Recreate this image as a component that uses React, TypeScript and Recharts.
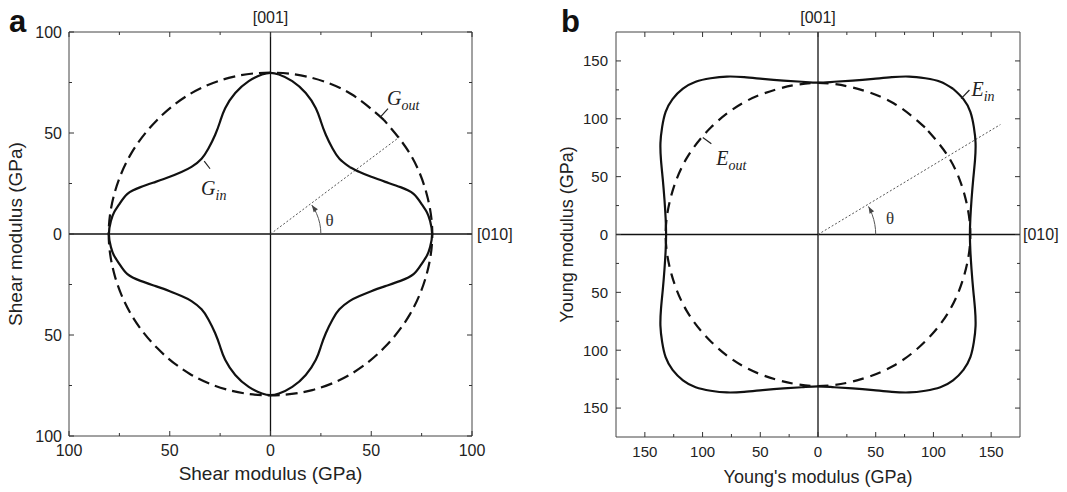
import React from 'react';
import { LineChart, Line, XAxis, YAxis, ReferenceLine, ReferenceDot } from 'recharts';

// (a) shear modulus, first quadrant (GPa), 0° -> 90°
const gInX = [80.2, 79.2, 77.6, 75.2, 71, 64.5, 57, 50, 44.2, 39.2, 34.2, 30.8, 27.5, 25, 22.5, 17.5, 10.8, 4.2, 0];
const gInY = [0, 6.5, 10.8, 14.5, 19.9, 23.2, 25.8, 28.3, 30.7, 33.2, 37.3, 42.3, 49, 55.7, 62.3, 69.8, 75.7, 79, 79.8];
const outAngles = [0, 15, 30, 45, 60, 75, 90];
const gOutR = [80.3, 80, 79.8, 79.7, 80, 80, 79.9];

// (b) Young's modulus, first quadrant (GPa)
const eInX = [131.6, 132, 133, 134.5, 136, 136.5, 135, 132, 126, 117, 106, 93, 79, 64, 48, 30, 14, 0];
const eInY = [0, 14, 30, 48, 64, 79, 93, 106, 117, 126, 132, 135, 136.5, 136, 134.5, 133, 132, 131.2];
const eOutR = [132, 131.5, 131.5, 131, 131, 130.5, 131];

const ticksA = [-100, -75, -50, -25, 0, 25, 50, 75, 100];
const ticksB = [-150, -125, -100, -75, -50, -25, 0, 25, 50, 75, 100, 125, 150];

// theta ray ends and arcs
const rayA = [{ x: 0, y: 0 }, { x: 64, y: 48 }];
const rayB = [{ x: 0, y: 0 }, { x: 158, y: 95 }];
const arcAngA = [0, 6, 12, 18, 24, 30, 35];
const arcAngB = [0, 5, 10, 15, 20, 25, 29];

// label pointers
const ptrGout = [{ x: 54.5, y: 57.9 }, { x: 58.3, y: 62.1 }];
const ptrGin = [{ x: -32.9, y: 36.1 }, { x: -30, y: 32.3 }];
const ptrEin = [{ x: 124, y: 117.4 }, { x: 131.2, y: 124.9 }];
const ptrEout = [{ x: -99.8, y: 83.9 }, { x: -92.4, y: 78.5 }];

type P = { x: number; y: number };

const SANS = '"Liberation Sans", Arial, sans-serif';
const SERIF = '"Liberation Serif", "Times New Roman", serif';

const zip = (xs: number[], ys: number[]): P[] => xs.map((x, i) => ({ x, y: ys[i] }));
const polar = (angles: number[], r: number[] | number): P[] =>
  angles.map((a, i) => {
    const rr = Array.isArray(r) ? r[i] : r;
    return { x: rr * Math.cos((a * Math.PI) / 180), y: rr * Math.sin((a * Math.PI) / 180) };
  });

// mirror a first-quadrant trace into a closed loop, start mid-quadrant
const closeLoop = (q1: P[]): P[] => {
  const q2 = q1.slice(0, -1).reverse().map((p) => ({ x: -p.x, y: p.y }));
  const q3 = q1.slice(1).map((p) => ({ x: -p.x, y: -p.y }));
  const q4 = q1.slice(0, -1).reverse().map((p) => ({ x: p.x, y: -p.y }));
  const all = [...q1, ...q2, ...q3, ...q4];
  const k = Math.floor(q1.length / 2);
  return [...all.slice(k, -1), ...all.slice(0, k + 1)];
};

const Tick = (props: any) => {
  const { x, y, payload, side, fs, gap } = props;
  const v = payload.value as number;
  const major = v % 50 === 0;
  const len = major ? 5 : 3;
  const c = '#333';
  let x2 = x;
  let y2 = y;
  if (side === 'bottom') y2 = y - len;
  if (side === 'top') y2 = y + len;
  if (side === 'left') x2 = x + len;
  if (side === 'right') x2 = x - len;
  return (
    <g>
      <line x1={x} y1={y} x2={x2} y2={y2} stroke={c} strokeWidth={1} />
      {major && side === 'bottom' && (
        <text x={x} y={y + 20} textAnchor="middle" fontSize={fs} fill="#222" fontFamily={SANS}>
          {Math.abs(v)}
        </text>
      )}
      {major && side === 'left' && (
        <text x={x - gap} y={y + fs * 0.36} textAnchor="end" fontSize={fs} fill="#222" fontFamily={SANS}>
          {Math.abs(v)}
        </text>
      )}
    </g>
  );
};

const noteLabel = (main: string, sub: string, dx: number, dy: number) => (p: any) => {
  const vb = p.viewBox || { x: 0, y: 0 };
  return (
    <text x={vb.x + dx} y={vb.y + dy} fontFamily={SERIF} fontStyle="italic" fontSize={20} fill="#222">
      {main}
      <tspan fontSize={14} dy={5}>{sub}</tspan>
    </text>
  );
};

const thetaLabel = (p: any) => {
  const vb = p.viewBox || { x: 0, y: 0 };
  return (
    <text x={vb.x} y={vb.y} textAnchor="middle" dominantBaseline="central" fontFamily={SERIF} fontSize={17} fill="#333">
      θ
    </text>
  );
};

const arrowDot = (last: number, endDeg: number) => (p: any) => {
  const { cx, cy, index } = p;
  if (index !== last) return <g key={`d${index}`} />;
  const a = (endDeg * Math.PI) / 180;
  const dx = -Math.sin(a);
  const dy = -Math.cos(a);
  const bx = cx - 7 * dx;
  const by = cy - 7 * dy;
  const nx = -dy * 2.6;
  const ny = dx * 2.6;
  return <path key={`d${index}`} d={`M${cx},${cy}L${bx + nx},${by + ny}L${bx - nx},${by - ny}Z`} fill="#444" />;
};

type PanelProps = {
  left: number;
  width: number;
  margin: { top: number; right: number; bottom: number; left: number };
  lim: number;
  ticks: number[];
  tickFont: number;
  tickGap: number;
  xTitle: string;
  yTitle: string;
  titleFont: number;
  xTitleDy: number;
  yTitleDx: number;
  rightLabelOffset: number;
  solid: P[];
  dashed: P[];
  dash: string;
  ray: P[];
  arc: P[];
  arcEnd: number;
  thetaAt: P;
  notes: { ptr: P[]; main: string; sub: string; dx: number; dy: number }[];
};

const Panel = (pp: PanelProps) => {
  const H = 492;
  const pl = pp.margin.left + 60;
  const pt = pp.margin.top + 1;
  const pw = pp.width - pp.margin.left - 60 - pp.margin.right - 1;
  const ph = H - pp.margin.top - 1 - pp.margin.bottom - 50;
  const dom: [number, number] = [-pp.lim, pp.lim];
  const axisStroke = { stroke: '#444', strokeWidth: 1 };
  return (
    <div style={{ position: 'absolute', left: pp.left, top: 0 }}>
      <LineChart width={pp.width} height={H} margin={pp.margin} style={{ fontFamily: SANS }}>
        <XAxis
          xAxisId={0}
          type="number"
          dataKey="x"
          domain={dom}
          allowDataOverflow
          ticks={pp.ticks}
          interval={0}
          height={50}
          tickSize={0}
          tickMargin={0}
          axisLine={axisStroke}
          tick={<Tick side="bottom" fs={pp.tickFont} gap={pp.tickGap} />}
          label={() => (
            <text x={pl + pw / 2} y={pt + ph + pp.xTitleDy} textAnchor="middle" fontSize={pp.titleFont} fill="#222" fontFamily={SANS}>
              {pp.xTitle}
            </text>
          )}
        />
        <XAxis
          xAxisId="top"
          orientation="top"
          type="number"
          dataKey="x"
          domain={dom}
          allowDataOverflow
          ticks={pp.ticks}
          interval={0}
          height={1}
          tickSize={0}
          tickMargin={0}
          axisLine={axisStroke}
          tick={<Tick side="top" fs={pp.tickFont} gap={pp.tickGap} />}
        />
        <YAxis
          yAxisId={0}
          type="number"
          dataKey="y"
          domain={dom}
          allowDataOverflow
          ticks={pp.ticks}
          interval={0}
          width={60}
          tickSize={0}
          tickMargin={0}
          axisLine={axisStroke}
          tick={<Tick side="left" fs={pp.tickFont} gap={pp.tickGap} />}
          label={() => {
            const tx = pl + pp.yTitleDx;
            const ty = pt + ph / 2;
            return (
              <text x={tx} y={ty} transform={`rotate(-90, ${tx}, ${ty})`} textAnchor="middle" fontSize={pp.titleFont} fill="#222" fontFamily={SANS}>
                {pp.yTitle}
              </text>
            );
          }}
        />
        <YAxis
          yAxisId="right"
          orientation="right"
          type="number"
          dataKey="y"
          domain={dom}
          allowDataOverflow
          ticks={pp.ticks}
          interval={0}
          width={1}
          tickSize={0}
          tickMargin={0}
          axisLine={axisStroke}
          tick={<Tick side="right" fs={pp.tickFont} gap={pp.tickGap} />}
        />
        <ReferenceLine
          x={0}
          stroke="#111"
          strokeWidth={1.3}
          label={{ value: '[001]', position: 'top', offset: 9, fontSize: 16, fill: '#222', fontFamily: SANS }}
        />
        <ReferenceLine
          y={0}
          stroke="#111"
          strokeWidth={1.3}
          label={{ value: '[010]', position: 'right', offset: pp.rightLabelOffset, fontSize: 16, fill: '#222', fontFamily: SANS }}
        />
        <Line data={pp.ray} dataKey="y" type="linear" stroke="#555" strokeWidth={1} strokeDasharray="2 2" dot={false} isAnimationActive={false} />
        <Line
          data={pp.arc}
          dataKey="y"
          type="natural"
          stroke="#555"
          strokeWidth={1}
          dot={arrowDot(pp.arc.length - 1, pp.arcEnd)}
          isAnimationActive={false}
        />
        <Line data={pp.dashed} dataKey="y" type="natural" stroke="#111" strokeWidth={2.2} strokeDasharray={pp.dash} dot={false} isAnimationActive={false} />
        <Line data={pp.solid} dataKey="y" type="natural" stroke="#111" strokeWidth={2.2} dot={false} isAnimationActive={false} />
        {pp.notes.map((n, i) => (
          <Line key={`p${i}`} data={n.ptr} dataKey="y" type="linear" stroke="#222" strokeWidth={1.2} dot={false} isAnimationActive={false} />
        ))}
        {pp.notes.map((n, i) => (
          <ReferenceDot
            key={`n${i}`}
            x={n.ptr[1].x}
            y={n.ptr[1].y}
            r={0}
            fill="none"
            stroke="none"
            label={noteLabel(n.main, n.sub, n.dx, n.dy)}
          />
        ))}
        <ReferenceDot x={pp.thetaAt.x} y={pp.thetaAt.y} r={0} fill="none" stroke="none" label={thetaLabel} />
      </LineChart>
    </div>
  );
};

export default function App() {
  const gIn = closeLoop(zip(gInX, gInY));
  const gOut = closeLoop(polar(outAngles, gOutR));
  const eIn = closeLoop(zip(eInX, eInY));
  const eOut = closeLoop(polar(outAngles, eOutR));
  return (
    <div style={{ position: 'absolute', left: 0, top: 0, width: 1067, height: 492, background: '#fff', overflow: 'hidden' }}>
      <Panel
        left={0}
        width={540}
        margin={{ top: 31, right: 67, bottom: 6, left: 9 }}
        lim={100}
        ticks={ticksA}
        tickFont={16}
        tickGap={7}
        xTitle="Shear modulus (GPa)"
        yTitle="Shear modulus (GPa)"
        titleFont={19}
        xTitleDy={44}
        yTitleDx={-47}
        rightLabelOffset={5}
        solid={gIn}
        dashed={gOut}
        dash="12 6"
        ray={rayA}
        arc={polar(arcAngA, 25)}
        arcEnd={35}
        thetaAt={{ x: 29.3, y: 6.6 }}
        notes={[
          { ptr: ptrGout, main: 'G', sub: 'out', dx: -1, dy: -4 },
          { ptr: ptrGin, main: 'G', sub: 'in', dx: -9, dy: 26 },
        ]}
      />
      <Panel
        left={540}
        width={527}
        margin={{ top: 31, right: 46, bottom: 5, left: 16 }}
        lim={175}
        ticks={ticksB}
        tickFont={15}
        tickGap={8}
        xTitle="Young's modulus (GPa)"
        yTitle="Young modulus (GPa)"
        titleFont={18}
        xTitleDy={46}
        yTitleDx={-43}
        rightLabelOffset={3}
        solid={eIn}
        dashed={eOut}
        dash="11 7"
        ray={rayB}
        arc={polar(arcAngB, 50)}
        arcEnd={29}
        thetaAt={{ x: 62.5, y: 14 }}
        notes={[
          { ptr: ptrEin, main: 'E', sub: 'in', dx: 2, dy: 6 },
          { ptr: ptrEout, main: 'E', sub: 'out', dx: 5, dy: 21 },
        ]}
      />
      <svg width={1067} height={492} style={{ position: 'absolute', left: 0, top: 0, pointerEvents: 'none' }}>
        <text x={9} y={32} fontFamily={SANS} fontWeight="bold" fontSize={31} fill="#111">a</text>
        <text x={561} y={32} fontFamily={SANS} fontWeight="bold" fontSize={31} fill="#111">b</text>
      </svg>
    </div>
  );
}
